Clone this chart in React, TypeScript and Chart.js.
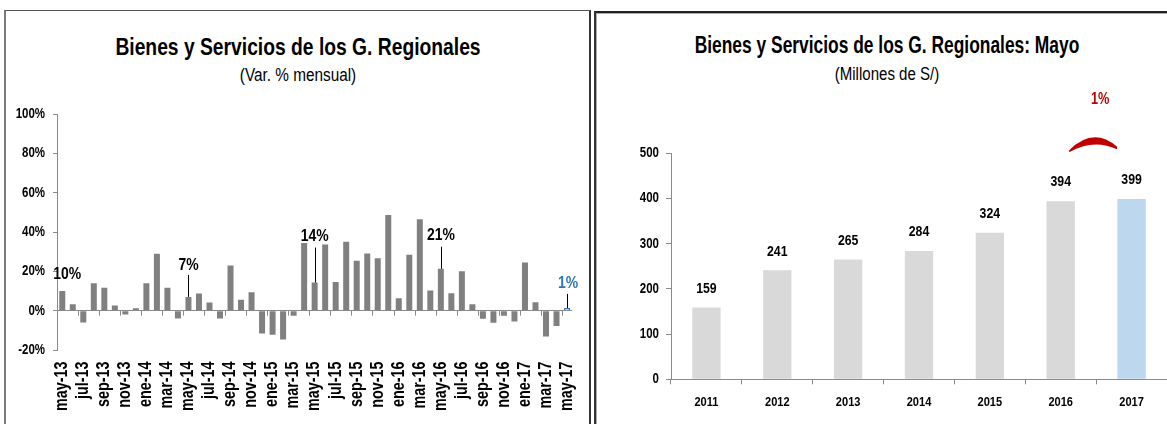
import React, { useEffect, useRef } from 'react';
import { Chart, registerables } from 'chart.js';

Chart.register(...registerables);

// ---------- DATA ----------
const MONTHS = [
  'may-13', 'jun-13', 'jul-13', 'ago-13', 'sep-13', 'oct-13', 'nov-13', 'dic-13',
  'ene-14', 'feb-14', 'mar-14', 'abr-14', 'may-14', 'jun-14', 'jul-14', 'ago-14',
  'sep-14', 'oct-14', 'nov-14', 'dic-14', 'ene-15', 'feb-15', 'mar-15', 'abr-15',
  'may-15', 'jun-15', 'jul-15', 'ago-15', 'sep-15', 'oct-15', 'nov-15', 'dic-15',
  'ene-16', 'feb-16', 'mar-16', 'abr-16', 'may-16', 'jun-16', 'jul-16', 'ago-16',
  'sep-16', 'oct-16', 'nov-16', 'dic-16', 'ene-17', 'feb-17', 'mar-17', 'abr-17',
  'may-17',
];
const VAR_MENSUAL = [
  10, 3.2, -6, 14, 11.6, 2.6, -1.9, 1.2,
  14, 29, 11.6, -4, 7, 8.7, 4.1, -4,
  23, 5.6, 9.4, -11.6, -12.3, -14.6, -2.6, 34.4,
  14.3, 33.6, 14.6, 35.1, 25.4, 29.1, 26.7, 48.7,
  6.3, 28.4, 46.5, 10.2, 21.3, 8.9, 20.1, 3.2,
  -4.1, -6.1, -2.6, -5.5, 24.5, 4.3, -13.1, -7.8,
  1.4,
];
const LABELED_MONTHS = [0, 12, 24, 36, 48];
const Y_LEFT_TICKS = [-20, 0, 20, 40, 60, 80, 100];

const YEARS = ['2011', '2012', '2013', '2014', '2015', '2016', '2017'];
const MAYO = [159, 241, 265, 284, 324, 394, 399];
const Y_RIGHT_TICKS = [0, 100, 200, 300, 400, 500];

// ---------- STYLE ----------
const FONT = "'Liberation Sans', Arial, sans-serif";
const SX = 0.82; // horizontal condensing (narrow face look)
const AXIS = '#8a8a8a';
const BLUE_TXT = '#2E75B6';

const ANNOT_STYLE: Record<number, { line: number; lift: number; dx: number; color: string }> = {
  0: { line: 0, lift: 17, dx: 5, color: '#000' },
  12: { line: 22, lift: 32, dx: 0, color: '#000' },
  24: { line: 35, lift: 46, dx: 0, color: '#000' },
  36: { line: 22, lift: 33, dx: 0, color: '#000' },
  48: { line: 14, lift: 25, dx: 1, color: BLUE_TXT },
};

function drawText(
  ctx: CanvasRenderingContext2D,
  text: string,
  x: number,
  y: number,
  size: number,
  opts: { bold?: boolean; color?: string; align?: CanvasTextAlign; rotate?: number; sx?: number } = {}
) {
  ctx.save();
  ctx.translate(x, y);
  if (opts.rotate) ctx.rotate(opts.rotate);
  ctx.scale(opts.sx ?? SX, 1);
  ctx.font = `${opts.bold === false ? '' : 'bold '}${size}px ${FONT}`;
  ctx.textAlign = opts.align ?? 'center';
  ctx.textBaseline = 'middle';
  ctx.fillStyle = opts.color ?? '#000';
  ctx.fillText(text, 0, 0);
  ctx.restore();
}

const leftPlugin = {
  id: 'leftPlugin',
  afterDatasetsDraw(chart: any) {
    const { ctx, scales, chartArea } = chart;
    const x = scales.x;
    const y = scales.y;
    const y0 = y.getPixelForValue(0);
    const half = (x.getPixelForValue(1) - x.getPixelForValue(0)) / 2;
    ctx.save();
    ctx.strokeStyle = AXIS;
    ctx.lineWidth = 1;
    for (let i = 0; i < MONTHS.length; i += 2) {
      const px = Math.round(x.getPixelForValue(i) - half) + 0.5;
      ctx.beginPath();
      ctx.moveTo(px, y0);
      ctx.lineTo(px, y0 + 5);
      ctx.stroke();
    }
    ctx.restore();
    // y tick labels
    Y_LEFT_TICKS.forEach((v) => {
      drawText(ctx, `${v}%`, chartArea.left - 12, y.getPixelForValue(v), 14, { align: 'right' });
    });
    // x tick labels (every other month, rotated)
    MONTHS.forEach((m, i) => {
      if (i % 2 !== 0) return;
      drawText(ctx, m, x.getPixelForValue(i), chartArea.bottom + 11.5, 17.5, { align: 'right', rotate: -Math.PI / 2 });
    });
    // annotations
    const meta = chart.getDatasetMeta(0);
    LABELED_MONTHS.forEach((idx) => {
      const bar = meta.data[idx];
      const st = ANNOT_STYLE[idx];
      const top = bar.y;
      if (st.line > 0) {
        ctx.save();
        ctx.strokeStyle = '#000';
        ctx.lineWidth = 1;
        ctx.beginPath();
        ctx.moveTo(Math.round(bar.x) + 0.5, top);
        ctx.lineTo(Math.round(bar.x) + 0.5, top - st.line);
        ctx.stroke();
        ctx.restore();
      }
      drawText(ctx, `${Math.round(VAR_MENSUAL[idx])}%`, bar.x + st.dx, top - st.lift, 17, { color: st.color });
    });
  },
};

const rightPlugin = {
  id: 'rightPlugin',
  afterDatasetsDraw(chart: any) {
    const { ctx, scales, chartArea } = chart;
    const x = scales.x;
    const y = scales.y;
    const meta = chart.getDatasetMeta(0);
    // axis labels
    Y_RIGHT_TICKS.forEach((v) => {
      drawText(ctx, String(v), chartArea.left - 12, y.getPixelForValue(v), 14, { align: 'right' });
    });
    YEARS.forEach((yr, i) => {
      drawText(ctx, yr, x.getPixelForValue(i), chartArea.bottom + 23.4, 13.5);
    });
    // data labels
    meta.data.forEach((bar: any, i: number) => {
      drawText(ctx, String(MAYO[i]), bar.x, bar.y - 19, 15);
    });
    // growth arc between last two years
    const n = MAYO.length;
    const xa = meta.data[n - 2].x + 8.5;
    const xb = meta.data[n - 1].x - 14.5;
    const xm = (xa + xb) / 2;
    const top = y.getPixelForValue(500);
    ctx.save();
    ctx.fillStyle = '#C00000';
    ctx.beginPath();
    ctx.moveTo(xa, top - 3);
    ctx.quadraticCurveTo(xm, top - 27, xb, top - 6.5);
    ctx.lineTo(xb, top - 4);
    ctx.quadraticCurveTo(xm, top - 15, xa, top - 1);
    ctx.closePath();
    ctx.fill();
    ctx.restore();
    const growth = (MAYO[n - 1] / MAYO[n - 2] - 1) * 100;
    drawText(ctx, `${Math.round(growth)}%`, (x.getPixelForValue(n - 2) + x.getPixelForValue(n - 1)) / 2 + 4, top - 54, 17, {
      color: '#C00000',
      sx: 0.75,
    });
  },
};

function LeftChart() {
  const ref = useRef<HTMLCanvasElement>(null);
  useEffect(() => {
    const chart = new Chart(ref.current!, {
      type: 'bar',
      data: {
        labels: MONTHS,
        datasets: [
          {
            data: VAR_MENSUAL,
            backgroundColor: VAR_MENSUAL.map((_, i) => (i === VAR_MENSUAL.length - 1 ? '#BDD7EE' : '#808080')),
            borderColor: VAR_MENSUAL.map((_, i) => (i === VAR_MENSUAL.length - 1 ? BLUE_TXT : 'rgba(0,0,0,0)')),
            borderWidth: VAR_MENSUAL.map((_, i) => (i === VAR_MENSUAL.length - 1 ? 1.5 : 0)),
            barPercentage: 0.57,
            categoryPercentage: 1,
          },
        ],
      },
      options: {
        animation: false,
        responsive: false,
        maintainAspectRatio: false,
        layout: { padding: { top: 24, right: 16.7, left: 0, bottom: 0 } },
        plugins: { legend: { display: false }, tooltip: { enabled: false }, title: { display: false } },
        scales: {
          x: {
            grid: { display: false },
            border: { display: false },
            ticks: { display: false, autoSkip: false },
            afterFit: (s: any) => {
              s.height = 74;
            },
          },
          y: {
            min: Y_LEFT_TICKS[0],
            max: Y_LEFT_TICKS[Y_LEFT_TICKS.length - 1],
            afterBuildTicks: (s: any) => {
              s.ticks = Y_LEFT_TICKS.map((v) => ({ value: v }));
            },
            ticks: { display: false },
            grid: {
              drawOnChartArea: true,
              drawTicks: true,
              tickLength: 4,
              tickColor: AXIS,
              color: (c: any) => (c.tick && c.tick.value === 0 ? AXIS : 'rgba(0,0,0,0)'),
            },
            border: { display: true, color: AXIS },
            afterFit: (s: any) => {
              s.width = 50;
            },
          },
        },
      },
      plugins: [leftPlugin],
    } as any);
    return () => chart.destroy();
  }, []);
  return <canvas ref={ref} width={582} height={334} style={{ position: 'absolute', left: 7, top: 90, width: 582, height: 334 }} />;
}

function RightChart() {
  const ref = useRef<HTMLCanvasElement>(null);
  useEffect(() => {
    const chart = new Chart(ref.current!, {
      type: 'bar',
      data: {
        labels: YEARS,
        datasets: [
          {
            data: MAYO,
            backgroundColor: MAYO.map((_, i) => (i === MAYO.length - 1 ? '#BDD7EE' : '#D9D9D9')),
            borderWidth: 0,
            barPercentage: 0.4,
            categoryPercentage: 1,
          },
        ],
      },
      options: {
        animation: false,
        responsive: false,
        maintainAspectRatio: false,
        layout: { padding: { top: 68.3, right: 0, left: 0, bottom: 0 } },
        plugins: { legend: { display: false }, tooltip: { enabled: false }, title: { display: false } },
        scales: {
          x: {
            grid: { drawOnChartArea: false, drawTicks: true, tickLength: 5, color: AXIS },
            border: { display: true, color: AXIS },
            ticks: { display: false },
            afterFit: (s: any) => {
              s.height = 44.7;
            },
          },
          y: {
            min: Y_RIGHT_TICKS[0],
            max: Y_RIGHT_TICKS[Y_RIGHT_TICKS.length - 1],
            afterBuildTicks: (s: any) => {
              s.ticks = Y_RIGHT_TICKS.map((v) => ({ value: v }));
            },
            ticks: { display: false },
            grid: { drawOnChartArea: false, drawTicks: true, tickLength: 5, tickColor: AXIS },
            border: { display: true, color: AXIS },
            afterFit: (s: any) => {
              s.width = 73;
            },
          },
        },
      },
      plugins: [rightPlugin],
    } as any);
    return () => chart.destroy();
  }, []);
  return <canvas ref={ref} width={569} height={339} style={{ position: 'absolute', left: 598, top: 85, width: 569, height: 339 }} />;
}

const textBase: React.CSSProperties = {
  position: 'absolute',
  textAlign: 'center',
  fontFamily: FONT,
  color: '#000',
  whiteSpace: 'nowrap',
  transformOrigin: 'center',
};

export default function App() {
  return (
    <div style={{ position: 'absolute', left: 0, top: 0, width: 1167, height: 424, overflow: 'hidden', background: '#fff' }}>
      {/* panel frames */}
      <div
        style={{
          position: 'absolute',
          left: 4,
          top: 10,
          width: 583,
          height: 440,
          borderLeft: '2px solid #7a7a7a',
          borderTop: '1.5px solid #555',
          borderRight: '2px solid #333',
        }}
      />
      <div
        style={{
          position: 'absolute',
          left: 594,
          top: 11,
          width: 600,
          height: 440,
          borderLeft: '2px solid #333',
          borderTop: '2px solid #222',
          boxShadow: 'inset 1px 1px 0 #aaa',
        }}
      />
      <div
        style={{ ...textBase, left: 6, width: 584, top: 35.8, fontSize: 23.5, lineHeight: '23.5px', fontWeight: 'bold', transform: `scaleX(${SX})` }}
      >
        Bienes y Servicios de los G. Regionales
      </div>
      <div style={{ ...textBase, left: 6, width: 584, top: 65.9, fontSize: 18.7, lineHeight: '18.7px', transform: `scaleX(${SX})` }}>
        (Var. % mensual)
      </div>
      <div
        style={{
          ...textBase,
          left: 587,
          width: 600,
          top: 34.4,
          fontSize: 23.5,
          lineHeight: '23.5px',
          fontWeight: 'bold',
          transform: 'scaleX(0.74)',
        }}
      >
        Bienes y Servicios de los G. Regionales: Mayo
      </div>
      <div style={{ ...textBase, left: 737, width: 300, top: 66, fontSize: 17.5, lineHeight: '17.5px', transform: 'scaleX(0.86)' }}>
        (Millones de S/)
      </div>
      <LeftChart />
      <RightChart />
    </div>
  );
}
